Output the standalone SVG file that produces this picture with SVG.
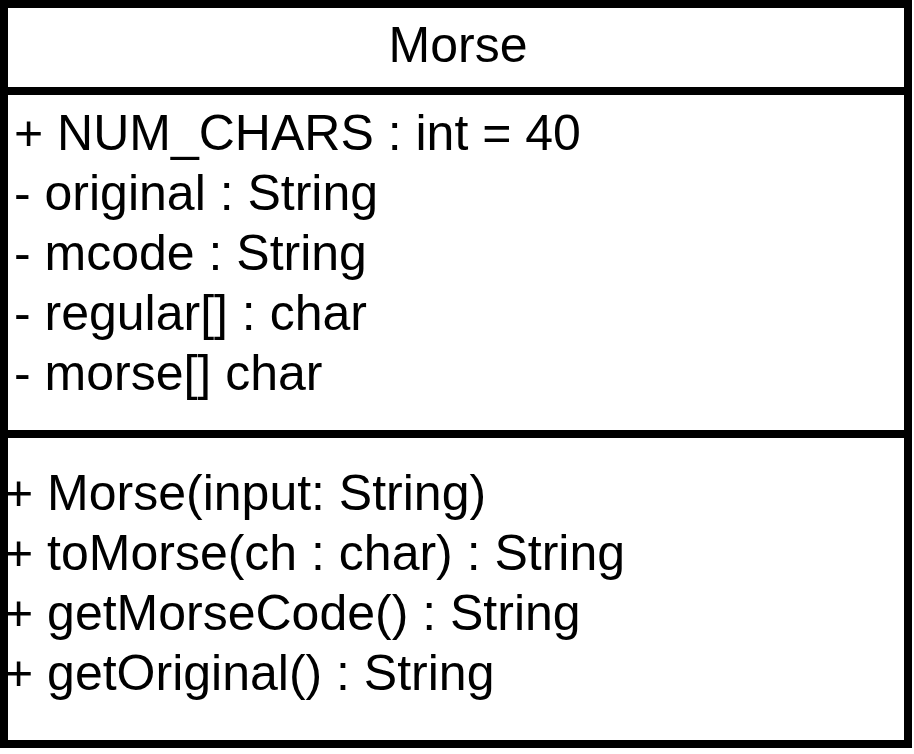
<svg xmlns="http://www.w3.org/2000/svg" width="914" height="754" viewBox="0 0 914 754">
<style>
text{font-family:"Liberation Sans",Arial,sans-serif;font-size:50px;fill:#000}
.box{fill:#fff;stroke:#000;stroke-width:8}
.sep{stroke:#000;stroke-width:8}
</style>
<g id="Morse">
<rect class="box" x="4" y="4" width="904" height="740"/>
<line class="sep" x1="4" y1="91" x2="908" y2="91"/>
<line class="sep" x1="4" y1="434" x2="908" y2="434"/>
<text x="458" y="62" text-anchor="middle">Morse</text>
<text x="14" y="150">+ NUM_CHARS : int = 40</text>
<text x="14" y="210">- original : String</text>
<text x="14" y="270">- mcode : String</text>
<text x="14" y="330">- regular[] : char</text>
<text x="14" y="390">- morse[] char</text>
<text x="4" y="510">+ Morse(input: String)</text>
<text x="4" y="570">+ toMorse(ch : char) : String</text>
<text x="4" y="630">+ getMorseCode() : String</text>
<text x="4" y="690">+ getOriginal() : String</text>
</g>
<g id="connectors"/>
</svg>
